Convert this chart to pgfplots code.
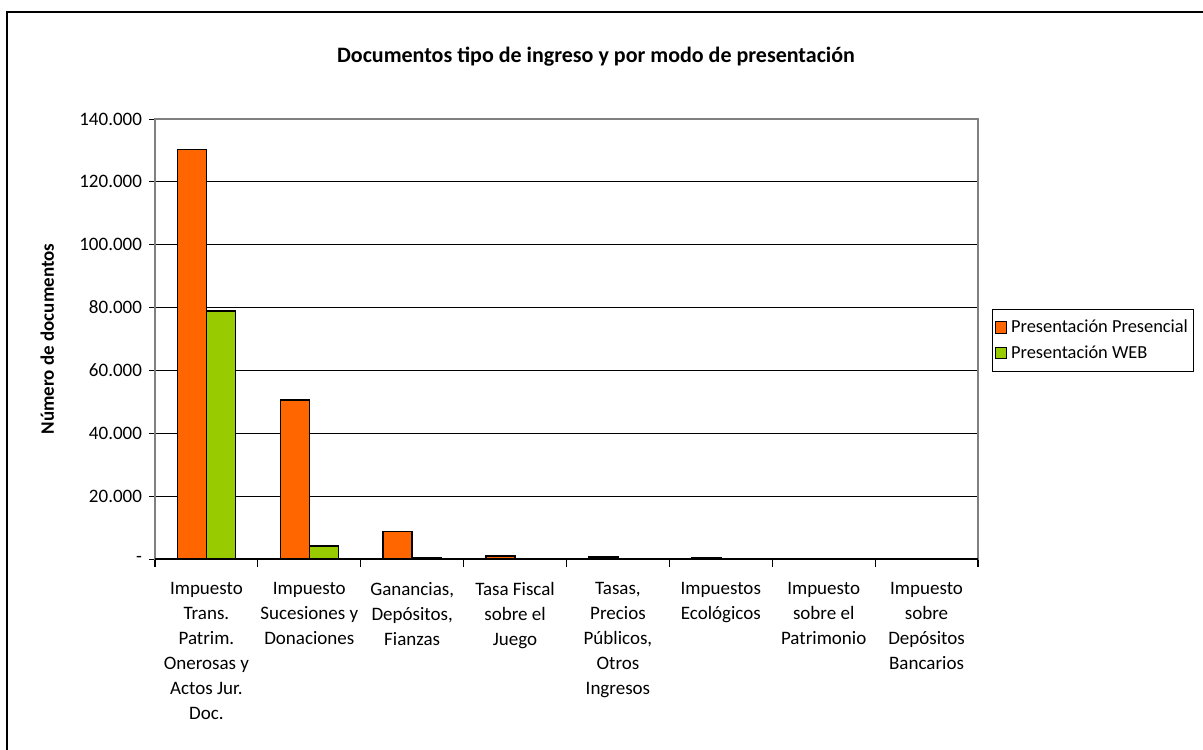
\documentclass[border=0pt]{standalone}
\usepackage{pgfplots}
\pgfplotsset{compat=1.18}
\usepackage{fontspec}
\setmainfont{Carlito}
\definecolor{naranja}{HTML}{FF6600}
\definecolor{verde}{HTML}{99CC00}
\definecolor{marco}{HTML}{808080}
\begin{document}
\begin{tikzpicture}
\useasboundingbox (0,0) rectangle (601.5pt,-374.5pt);
\draw[line width=0.8pt] (3.5pt,-380pt) -- (3.5pt,-6pt) -- (610pt,-6pt);
\node[font=\fontsize{11}{13}\selectfont\bfseries] at (298pt,-28.5pt)
  {Documentos tipo de ingreso y por modo de presentación};
\begin{axis}[
  at={(77.5pt,-279.5pt)}, anchor=south west,
  scale only axis, width=411.5pt, height=220pt,
  ybar, bar width=14.5pt,
  xmin=0.5, xmax=8.5, ymin=0, ymax=140000,
  scaled y ticks=false,
  tick pos=left,
  xtick={1,...,8},
  xticklabels={
    {Impuesto\\Trans.\\Patrim.\\Onerosas y\\Actos Jur.\\Doc.},
    {Impuesto\\Sucesiones y\\Donaciones},
    {Ganancias,\\Depósitos,\\Fianzas},
    {Tasa Fiscal\\sobre el\\Juego},
    {Tasas,\\Precios\\Públicos,\\Otros\\Ingresos},
    {Impuestos\\Ecológicos},
    {Impuesto\\sobre el\\Patrimonio},
    {Impuesto\\sobre\\Depósitos\\Bancarios}},
  xticklabel style={align=center, anchor=north, yshift=-5pt,
    font=\fontsize{9.5}{12.5}\selectfont},
  major x tick style={draw=none},
  minor xtick={0.5,1.5,...,8.5},
  minor x tick style={black, line width=0.6pt},
  minor tick length=4pt,
  ytick={0,20000,...,140000},
  yticklabels={-,20.000,40.000,60.000,80.000,100.000,120.000,140.000},
  yticklabel style={font=\fontsize{9.5}{11}\selectfont},
  major tick length=3pt,
  tick align=outside,
  y tick style={black, line width=0.5pt},
  ymajorgrids, grid style={black, line width=0.5pt},
  axis line style={marco, line width=0.8pt},
  ylabel={\bfseries Número de documentos},
  ylabel style={at={(axis description cs:-0.131,0.5)}, anchor=center,
    font=\fontsize{9.5}{11}\selectfont},
  legend style={at={(axis description cs:1.017,0.568)}, anchor=north west,
    draw=black, line width=0.5pt, font=\fontsize{9.2}{12}\selectfont,
    inner xsep=1pt, inner ysep=3pt, row sep=1pt},
  legend image code/.code={\draw[#1, draw=black, line width=0.6pt] (0cm,-0.1cm) rectangle (0.2cm,0.1cm);},
  legend cell align=left,
]
\addplot[fill=naranja, draw=black, line width=0.8pt, bar shift=-7.25pt] coordinates {
  (1,130300) (2,50500) (3,8800) (4,1000) (5,600) (6,300) (7,60) (8,20)};
\addplot[fill=verde, draw=black, line width=0.8pt, bar shift=7.25pt] coordinates {
  (1,79000) (2,4200) (3,500) (4,120) (5,60) (6,50) (7,20) (8,10)};
\legend{Presentación Presencial, Presentación WEB}
\draw[black, line width=0.8pt] (rel axis cs:0,0) -- (rel axis cs:1,0);
\end{axis}
\end{tikzpicture}
\end{document}
